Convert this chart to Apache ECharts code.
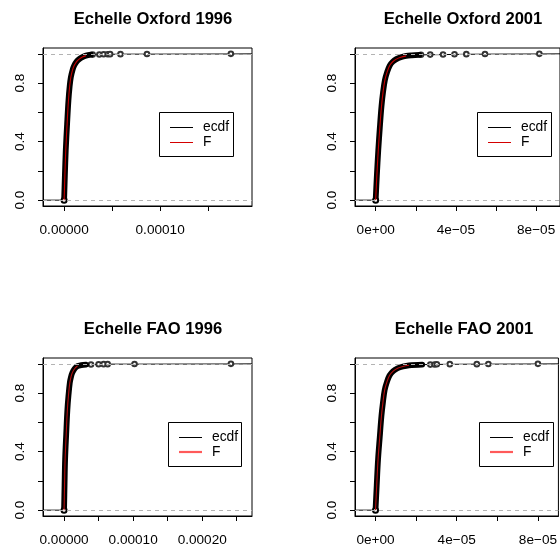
<!DOCTYPE html>
<html>
<head>
<meta charset="utf-8">
<script src="https://cdn.jsdelivr.net/npm/echarts@6/dist/echarts.min.js"></script>
<style>
html,body{margin:0;padding:0;background:#fff;}
#chart{width:560px;height:552px;}
</style>
</head>
<body>
<div id="chart"></div>
<script>
// ---------------- data ----------------
const titles = ['Echelle Oxford 1996', 'Echelle Oxford 2001', 'Echelle FAO 1996', 'Echelle FAO 2001'];

// dense part of each empirical CDF: [x, Fn(x)]
const ecdfOx96 = [[0,0],[0.8e-6,0.17],[1.7e-6,0.34],[3.1e-6,0.52],[4.5e-6,0.68],[5.8e-6,0.78],[7e-6,0.84],[8.8e-6,0.89],[1.05e-5,0.92],[1.3e-5,0.947],[1.57e-5,0.964],[1.9e-5,0.978],[2.27e-5,0.988],[2.8e-5,0.995]];
const ecdfOx01 = [[0,0],[0.6e-6,0.17],[1.3e-6,0.34],[2.1e-6,0.50],[2.9e-6,0.64],[3.7e-6,0.74],[4.6e-6,0.82],[5.7e-6,0.875],[7.0e-6,0.92],[8.5e-6,0.946],[1.03e-5,0.964],[1.25e-5,0.977],[1.52e-5,0.986],[1.8e-5,0.990],[2.18e-5,0.993]];
const ecdfFao96 = [[0,0],[0.7e-6,0.17],[1.5e-6,0.345],[3.1e-6,0.52],[4.8e-6,0.686],[6.5e-6,0.79],[8.3e-6,0.87],[1.0e-5,0.91],[1.2e-5,0.94],[1.55e-5,0.968],[1.94e-5,0.985],[2.5e-5,0.991],[3.2e-5,0.995]];
const ecdfFao01 = [[0,0],[0.6e-6,0.17],[1.25e-6,0.345],[2.1e-6,0.50],[2.9e-6,0.64],[3.7e-6,0.74],[4.5e-6,0.82],[5.6e-6,0.875],[6.9e-6,0.92],[8.7e-6,0.95],[1.09e-5,0.97],[1.35e-5,0.982],[1.65e-5,0.99],[2.3e-5,0.995]];

// isolated large observations (open circles near Fn = 1)
const tailXOx96 = [2.97e-5, 3.67e-5, 4.12e-5, 4.54e-5, 4.79e-5, 5.87e-5, 8.63e-5, 1.737e-4];
const tailYOx96 = [0.995, 0.996, 0.997, 0.997, 0.998, 0.998, 0.999, 1];
const tailXOx01 = [2.26e-5, 2.72e-5, 3.36e-5, 3.93e-5, 4.52e-5, 5.45e-5, 8.16e-5];
const tailYOx01 = [0.994, 0.995, 0.996, 0.997, 0.998, 0.999, 1];
const tailXFao96 = [3.9e-5, 5.0e-5, 5.73e-5, 6.31e-5, 1.02e-4, 2.416e-4];
const tailYFao96 = [0.996, 0.997, 0.998, 0.998, 0.999, 1];
const tailXFao01 = [2.7e-5, 2.91e-5, 3.02e-5, 3.66e-5, 4.99e-5, 5.56e-5, 8.0e-5];
const tailYFao01 = [0.995, 0.996, 0.997, 0.998, 0.998, 0.999, 1];

// fitted theoretical CDF F: [x, F(x)]
const fitOx96 = [[0,0],[0.8e-6,0.17],[1.7e-6,0.34],[3.1e-6,0.52],[4.5e-6,0.68],[5.8e-6,0.78],[7e-6,0.84],[8.8e-6,0.89],[1.05e-5,0.92],[1.3e-5,0.947],[1.57e-5,0.964],[1.9e-5,0.978],[2.27e-5,0.988]];
const fitOx01 = [[0,0],[0.6e-6,0.17],[1.3e-6,0.34],[2.1e-6,0.50],[2.9e-6,0.64],[3.7e-6,0.74],[4.6e-6,0.82],[5.7e-6,0.875],[7.0e-6,0.92],[8.5e-6,0.946],[1.03e-5,0.964],[1.25e-5,0.977],[1.52e-5,0.986]];
const fitFao96 = [[0,0],[0.7e-6,0.17],[1.5e-6,0.345],[3.1e-6,0.52],[4.8e-6,0.686],[6.5e-6,0.79],[8.3e-6,0.87],[1.0e-5,0.91],[1.2e-5,0.94],[1.55e-5,0.968],[1.94e-5,0.985]];
const fitFao01 = [[0,0],[0.6e-6,0.17],[1.25e-6,0.345],[2.1e-6,0.50],[2.9e-6,0.64],[3.7e-6,0.74],[4.5e-6,0.82],[5.6e-6,0.875],[6.9e-6,0.92],[8.7e-6,0.95],[1.09e-5,0.97],[1.35e-5,0.982],[1.65e-5,0.99]];

// axis ticks and labels
const xTicksOx96 = [0, 5e-5, 1e-4, 1.5e-4];
const xLabelsOx96 = [[0, '0.00000'], [1e-4, '0.00010']];
const xTicksOx01 = [0, 2e-5, 4e-5, 6e-5, 8e-5];
const xLabelsOx01 = [[0, '0e+00'], [4e-5, '4e\u221205'], [8e-5, '8e\u221205']];
const xTicksFao96 = [0, 5e-5, 1e-4, 1.5e-4, 2e-4, 2.5e-4];
const xLabelsFao96 = [[0, '0.00000'], [1e-4, '0.00010'], [2e-4, '0.00020']];
const xTicksFao01 = [0, 2e-5, 4e-5, 6e-5, 8e-5];
const xLabelsFao01 = [[0, '0e+00'], [4e-5, '4e\u221205'], [8e-5, '8e\u221205']];
const yTicks = [0, 0.2, 0.4, 0.6, 0.8, 1];
const yLabels = [0, 0.4, 0.8];
const legendNames = ['ecdf', 'F'];

// ---------------- layout ----------------
const FONT = '"Liberation Sans", Arial, Helvetica, sans-serif';
const panels = [
  {title: titles[0], ecdf: ecdfOx96, tx: tailXOx96, ty: tailYOx96, fit: fitOx96, ticks: xTicksOx96, labels: xLabelsOx96,
   xmin: -2.2e-5, xmax: 1.957e-4, grid: {left: 43, top: 48, width: 209, height: 158}, tcx: 148, tty: 6,
   leg: {x: 159, y: 112, w: 74, h: 44}, fitColor: '#c80000', legFitColor: '#d40000', legFitW: 1},
  {title: titles[1], ecdf: ecdfOx01, tx: tailXOx01, ty: tailYOx01, fit: fitOx01, ticks: xTicksOx01, labels: xLabelsOx01,
   xmin: -1.03e-5, xmax: 9.19e-5, grid: {left: 355, top: 48, width: 208, height: 158}, tcx: 458, tty: 6,
   leg: {x: 477, y: 112, w: 74, h: 44}, fitColor: '#c80000', legFitColor: '#d40000', legFitW: 1},
  {title: titles[2], ecdf: ecdfFao96, tx: tailXFao96, ty: tailYFao96, fit: fitFao96, ticks: xTicksFao96, labels: xLabelsFao96,
   xmin: -3.05e-5, xmax: 2.721e-4, grid: {left: 43, top: 358, width: 209, height: 158}, tcx: 148, tty: 316,
   leg: {x: 168, y: 422, w: 73, h: 44}, fitColor: '#b81010', legFitColor: '#ff5a5a', legFitW: 2.2},
  {title: titles[3], ecdf: ecdfFao01, tx: tailXFao01, ty: tailYFao01, fit: fitFao01, ticks: xTicksFao01, labels: xLabelsFao01,
   xmin: -1.01e-5, xmax: 9.01e-5, grid: {left: 355, top: 358, width: 208, height: 158}, tcx: 459, tty: 316,
   leg: {x: 479, y: 422, w: 74, h: 44}, fitColor: '#b81010', legFitColor: '#ff5a5a', legFitW: 2.2}
];

const option = {
  animation: false,
  backgroundColor: '#fff',
  title: [], grid: [], xAxis: [], yAxis: [], series: [], graphic: []
};

panels.forEach((p, i) => {
  option.title.push({
    text: p.title, left: p.tcx, top: p.tty, textAlign: 'center',
    textStyle: {fontFamily: FONT, fontSize: 16.6, fontWeight: 'bold', color: '#000'}
  });
  option.grid.push(Object.assign({show: true, borderColor: '#000', borderWidth: 1, backgroundColor: 'transparent', containLabel: false}, p.grid));
  const labVals = p.labels.map(l => l[0]);
  option.xAxis.push({
    type: 'value', gridIndex: i, min: p.xmin, max: p.xmax,
    axisLine: {show: true, onZero: false, lineStyle: {color: '#000', width: 1}},
    axisTick: {show: true, inside: false, length: 5, customValues: p.ticks, lineStyle: {color: '#000'}},
    axisLabel: {
      show: true, margin: 17, customValues: labVals, color: '#000', fontFamily: FONT, fontSize: 13.6,
      formatter: v => { let best = p.labels[0]; p.labels.forEach(l => { if (Math.abs(l[0] - v) < Math.abs(best[0] - v)) best = l; }); return best[1]; }
    },
    splitLine: {show: false}
  });
  option.yAxis.push({
    type: 'value', gridIndex: i, min: -0.04, max: 1.04,
    axisLine: {show: true, onZero: false, lineStyle: {color: '#000', width: 1}},
    axisTick: {show: true, inside: false, length: 5, customValues: yTicks, lineStyle: {color: '#000'}},
    axisLabel: {show: true, margin: 16, rotate: 90, customValues: yLabels, color: '#000', fontFamily: FONT, fontSize: 13.6,
      formatter: v => v.toFixed(1)},
    splitLine: {show: false}
  });
  // level 0 step from left edge to first observation
  option.series.push({
    type: 'line', xAxisIndex: i, yAxisIndex: i, z: 1, silent: true, symbol: 'none',
    lineStyle: {color: '#000', width: 1},
    data: [[p.xmin, 0], p.ecdf[0]]
  });
  // tail steps with open circles
  const tailData = [p.ecdf[p.ecdf.length - 1]].concat(p.tx.map((x, k) => [x, p.ty[k]]));
  tailData.push({value: [p.xmax, 1], symbol: 'none'});
  option.series.push({
    type: 'line', xAxisIndex: i, yAxisIndex: i, z: 1, silent: true, step: 'end',
    symbol: 'emptyCircle', symbolSize: 4.6, showSymbol: true,
    itemStyle: {color: '#333', borderColor: '#333', borderWidth: 0.9},
    lineStyle: {color: '#000', width: 1},
    data: tailData.map((d, k) => k === 0 ? {value: d, symbol: 'none'} : d)
  });
  // dashed reference lines at 0 and 1
  option.series.push({
    type: 'line', xAxisIndex: i, yAxisIndex: i, z: 2, silent: true, symbol: 'none',
    lineStyle: {opacity: 0}, data: [],
    markLine: {silent: true, symbol: 'none', label: {show: false},
      lineStyle: {color: '#b3b3b3', type: [4, 4], width: 1},
      data: [{yAxis: 0}, {yAxis: 1}]}
  });
  // dense ecdf (overlapping points)
  option.series.push({
    type: 'line', xAxisIndex: i, yAxisIndex: i, z: 3, silent: true, symbol: 'none',
    smooth: 0.35, lineStyle: {color: '#000', width: 5.8, cap: 'round', join: 'round'},
    data: p.ecdf
  });
  option.series.push({
    type: 'line', xAxisIndex: i, yAxisIndex: i, z: 3, silent: true,
    symbol: 'emptyCircle', symbolSize: 5, itemStyle: {color: '#000', borderWidth: 1}, lineStyle: {opacity: 0},
    data: [p.ecdf[0]]
  });
  // fitted F
  option.series.push({
    type: 'line', xAxisIndex: i, yAxisIndex: i, z: 4, silent: true, symbol: 'none',
    smooth: 0.35, lineStyle: {color: p.fitColor, width: 1.1},
    data: p.fit
  });
  // legend box
  const L = p.leg;
  option.graphic.push({
    type: 'group', left: L.x, top: L.y, z: 10,
    children: [
      {type: 'rect', shape: {x: 0.5, y: 0.5, width: L.w, height: L.h}, style: {fill: '#fff', stroke: '#000', lineWidth: 1}},
      {type: 'line', shape: {x1: 11, y1: 15.5, x2: 34, y2: 15.5}, style: {stroke: '#000', lineWidth: 1}},
      {type: 'line', shape: {x1: 11, y1: p.legFitW > 1.5 ? 30 : 30.5, x2: 34, y2: p.legFitW > 1.5 ? 30 : 30.5}, style: {stroke: p.legFitColor, lineWidth: p.legFitW}},
      {type: 'text', x: 44, y: 15, style: {text: legendNames[0], fill: '#000', font: '13.8px ' + FONT, textVerticalAlign: 'middle', verticalAlign: 'middle'}},
      {type: 'text', x: 44, y: 30, style: {text: legendNames[1], fill: '#000', font: '13.8px ' + FONT, textVerticalAlign: 'middle', verticalAlign: 'middle'}}
    ]
  });
});

const chart = echarts.init(document.getElementById('chart'), null, {renderer: 'canvas'});
chart.setOption(option);
</script>
</body>
</html>
